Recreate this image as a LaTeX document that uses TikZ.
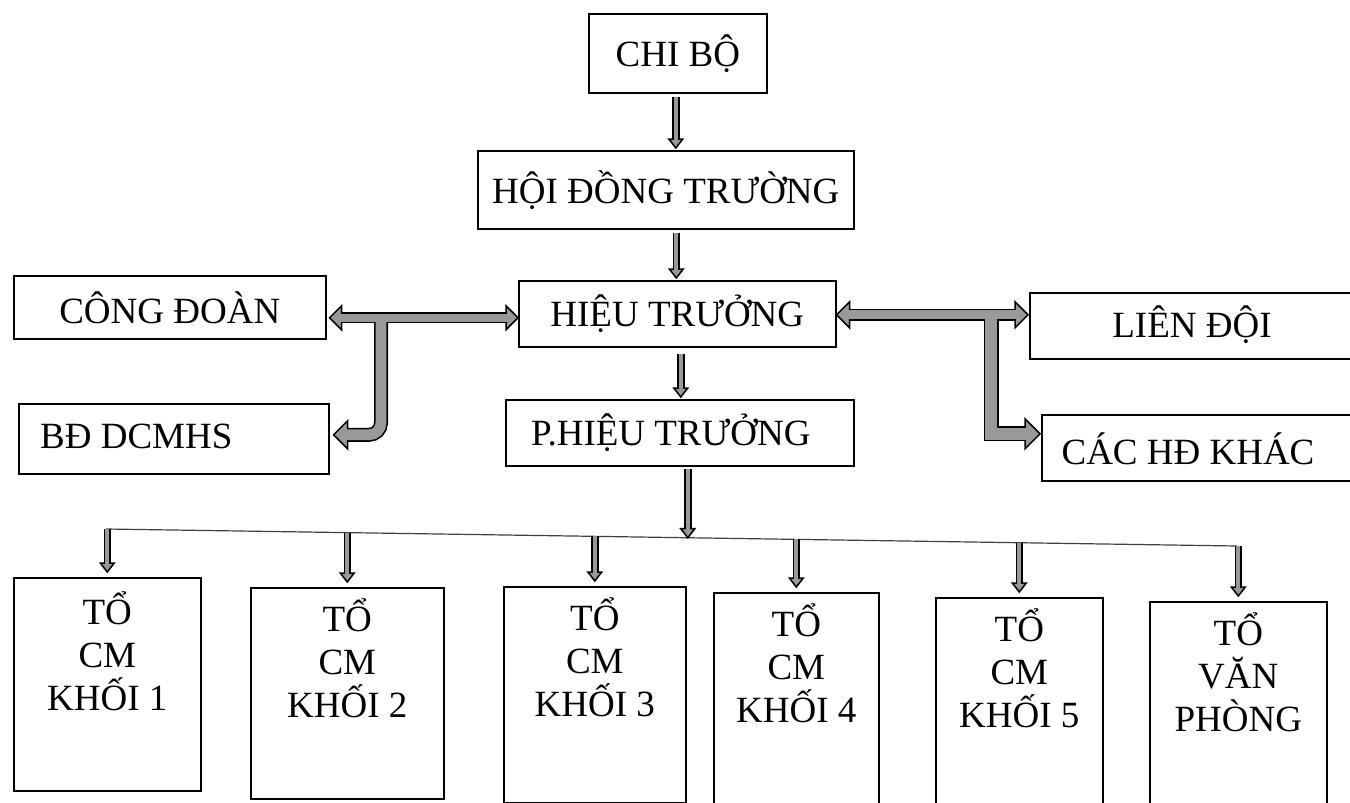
\documentclass[tikz,border=0pt]{standalone}
\usepackage{fontspec}
\setmainfont{Liberation Serif}
\usetikzlibrary{calc}
\definecolor{afill}{gray}{0.6}
\newcommand{\darr}[2]{%
  \draw[outs=7.5pt] (#1) -- ([shift={(0,-9)}]#2);
  \filldraw[head] ([shift={(-7,-9)}]#2) -- (#2) -- ([shift={(7,-9)}]#2) -- cycle;
  \draw[ins=4pt] (#1) -- ([shift={(0,-7.8)}]#2);
}
\begin{document}
\begin{tikzpicture}[x=1pt,y=-1pt,
  box/.style={draw, line width=1.6pt, inner sep=0pt, anchor=north west,
    font=\fontsize{37}{43}\selectfont, align=center},
  lbl/.style={inner sep=0pt, font=\fontsize{37}{43}\selectfont, align=center},
  head/.style={fill=afill, draw=black, line width=1.5pt, line join=miter},
  outs/.style={draw=black, line width=#1, line cap=butt, line join=miter},
  ins/.style={draw=afill, line width=#1, line cap=butt, line join=miter},
  bus/.style={draw=black!75, line width=1.2pt}]
\useasboundingbox (0,0) rectangle (1350,803);
\clip (0,0) rectangle (1350,803);

% ---- boxes ----
\node[box, minimum width=178pt, minimum height=79pt] (chibo) at (588,13) {CHI BỘ};
\node[box, minimum width=376pt, minimum height=78pt] (hdt) at (477,150) {HỘI ĐỒNG TRƯỜNG};
\node[box, minimum width=317pt, minimum height=66pt] (ht) at (518,280) {HIỆU TRƯỞNG};
\node[box, minimum width=348pt, minimum height=66pt] (pht) at (505,399) {};
\node[lbl] (phtt) at ($(pht.center)+(-9,0)$) {P.HIỆU TRƯỞNG};
\node[box, minimum width=312pt, minimum height=63pt] (cd) at (13,275) {CÔNG ĐOÀN};
\node[box, minimum width=310pt, minimum height=70pt] (bd) at (18,403) {};
\node[lbl, anchor=west] (bdt) at ($(bd.west)+(22,-2)$) {BĐ DCMHS};
\node[box, minimum width=340pt, minimum height=66pt] (ld) at (1029,292) {};
\node[lbl] (ldt) at (1192,325) {LIÊN ĐỘI};
\node[box, minimum width=330pt, minimum height=66pt] (cahd) at (1041,414) {};
\node[lbl] (cahdt) at (1188,449) {CÁC HĐ KHÁC};

\node[box, minimum width=187pt, minimum height=213pt] (k1) at (13,577) {};
\node[box, minimum width=193pt, minimum height=211pt] (k2) at (250,587) {};
\node[box, minimum width=182pt, minimum height=216pt] (k3) at (503,586) {};
\node[box, minimum width=165pt, minimum height=215pt] (k4) at (713,592) {};
\node[box, minimum width=167pt, minimum height=215pt] (k5) at (935,597) {};
\node[box, minimum width=177pt, minimum height=215pt] (k6) at (1149,601) {};
\node[lbl, anchor=north] (k1t) at ($(k1.north)+(0,14)$) {TỔ\\CM\\KHỐI 1};
\node[lbl, anchor=north] (k2t) at ($(k2.north)+(0,11)$) {TỔ\\CM\\KHỐI 2};
\node[lbl, anchor=north] (k3t) at ($(k3.north)+(0,11)$) {TỔ\\CM\\KHỐI 3};
\node[lbl, anchor=north] (k4t) at ($(k4.north)+(0,11)$) {TỔ\\CM\\KHỐI 4};
\node[lbl, anchor=north] (k5t) at ($(k5.north)+(0,11)$) {TỔ\\CM\\KHỐI 5};
\node[lbl, anchor=north] (k6t) at ($(k6.north)+(0,11)$) {TỔ\\VĂN\\PHÒNG};

% ---- vertical arrows ----
\coordinate (a1s) at ($(chibo.south)+(-2,3)$);
\coordinate (a1t) at ($(chibo.south |- hdt.north)+(-2,-2)$);
\darr{a1s}{a1t}
\coordinate (a2s) at ($(hdt.south -| ht.north)+(-1,3)$);
\coordinate (a2t) at ($(ht.north)+(-1,-2)$);
\darr{a2s}{a2t}
\coordinate (a3s) at ($(ht.south -| pht.north)+(1,6)$);
\coordinate (a3t) at ($(pht.north)+(1,-2)$);
\darr{a3s}{a3t}

% ---- bus ----
\coordinate (busL) at (106,529);
\coordinate (busR) at (1237,546);
\draw[bus] (busL) -- (busR);
\coordinate (a4s) at ($(pht.south)+(8,2)$);
\coordinate (a4p) at ($(busL)!(a4s)!(busR)$);
\coordinate (a4t) at (a4s |- a4p);
\darr{a4s}{a4t}
\foreach \k in {k1,k2,k3,k4,k5,k6}{
  \coordinate (\k p) at ($(busL)!(\k.north)!(busR)$);
  \coordinate (\k s) at (\k.north |- \k p);
  \coordinate (\k e) at ($(\k.north)+(0,-5)$);
  \darr{\k s}{\k e}
}

% ---- left group ----
\coordinate (mL) at ($(ht.west)+(0,4)$);
\coordinate (tL) at ($(cd.east |- mL)+(3,0)$);
\coordinate (jL) at (381,317);
\coordinate (tB) at ($(bd.east)+(4,-4)$);
\coordinate (cL) at (jL |- tB);
\draw[outs=11pt] ($(tL)+(12,0)$) -- ($(mL)+(-12,0)$);
\draw[outs=14pt, rounded corners=12pt] (jL) -- (cL) -- ($(tB)+(14,0)$);
\filldraw[head] ($(tL)+(12,-12)$) -- (tL) -- ($(tL)+(12,12)$) -- cycle;
\filldraw[head] ($(mL)+(-12,-12)$) -- (mL) -- ($(mL)+(-12,12)$) -- cycle;
\filldraw[head] ($(tB)+(14,-14)$) -- (tB) -- ($(tB)+(14,14)$) -- cycle;
\draw[ins=7.8pt] ($(tL)+(10.5,0)$) -- ($(mL)+(-10.5,0)$);
\draw[ins=10.8pt, rounded corners=12pt] (jL) -- (cL) -- ($(tB)+(12.5,0)$);

% ---- right group ----
\coordinate (mR) at ($(ht.east)+(0,1)$);
\coordinate (tR) at ($(ld.west |- mR)+(-1,0)$);
\coordinate (jR) at (991,314);
\coordinate (tC) at ($(cahd.west)+(-1,-14)$);
\coordinate (cR) at (jR |- tC);
\draw[outs=12pt] ($(mR)+(13,0)$) -- ($(tR)+(-13,0)$);
\draw[outs=15pt] (jR) -- (cR) -- ($(tC)+(-15,0)$);
\filldraw[head] ($(mR)+(13,-13)$) -- (mR) -- ($(mR)+(13,13)$) -- cycle;
\filldraw[head] ($(tR)+(-13,-13)$) -- (tR) -- ($(tR)+(-13,13)$) -- cycle;
\filldraw[head] ($(tC)+(-15,-15)$) -- (tC) -- ($(tC)+(-15,15)$) -- cycle;
\draw[ins=8.8pt] ($(mR)+(11.5,0)$) -- ($(tR)+(-11.5,0)$);
\draw[ins=11.8pt] (jR) -- (cR) -- ($(tC)+(-13.5,0)$);
\end{tikzpicture}
\end{document}
